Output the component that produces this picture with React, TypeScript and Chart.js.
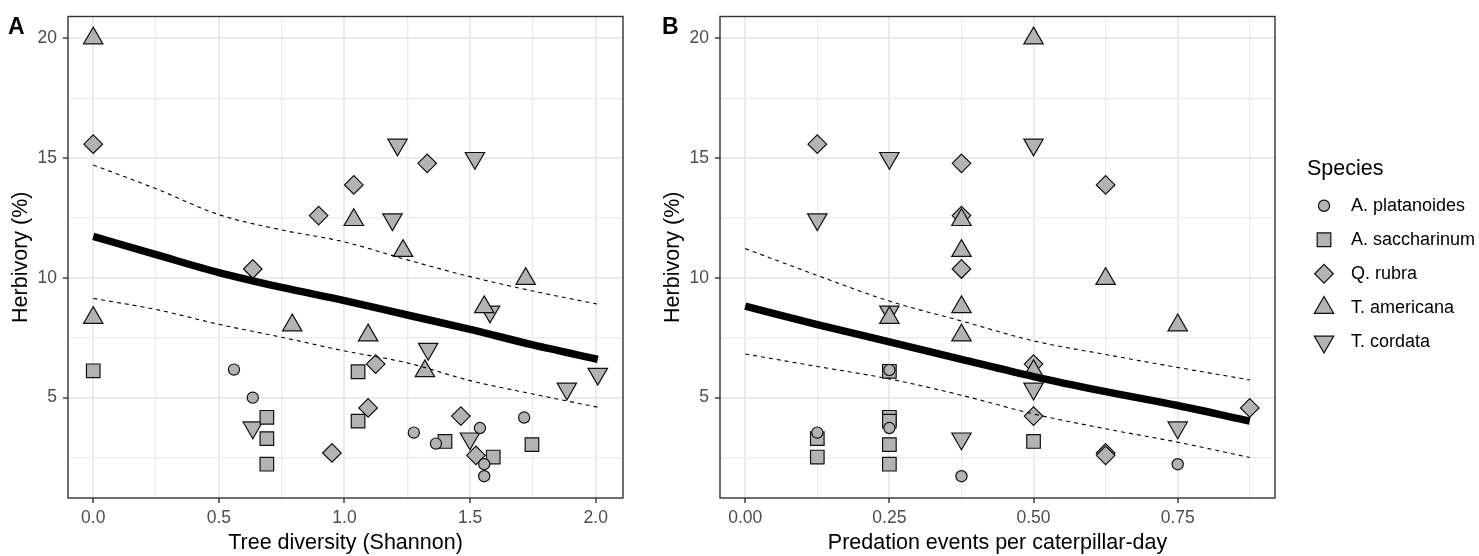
import React, { useEffect, useRef } from 'react';
import { Chart, registerables } from 'chart.js';
import { drawPoint } from 'chart.js/helpers';

Chart.register(...registerables);

const FONT = "'Liberation Sans', Arial, Helvetica, sans-serif";

// ---- Species (legend order) ----
const speciesNames = ['A. platanoides', 'A. saccharinum', 'Q. rubra', 'T. americana', 'T. cordata'];
const speciesShapes = ['circle', 'rect', 'rectRot', 'triangle', 'triangle'];
const speciesRotation = [0, 0, 0, 0, 180];
const speciesRadius = [5.6, 9.6, 9.3, 11.2, 11.2];

// ---- Panel A: tree diversity (Shannon) vs herbivory ----
const platDiv = [0.56, 0.635, 1.276, 1.364, 1.539, 1.556, 1.556, 1.715];
const platHerbA = [6.17, 5.0, 3.54, 3.08, 3.73, 2.22, 1.72, 4.17];
const sacchDiv = [0.0, 0.691, 0.691, 0.691, 1.054, 1.054, 1.4, 1.592, 1.746];
const sacchHerbA = [6.12, 4.18, 3.29, 2.22, 6.08, 4.02, 3.17, 2.52, 3.04];
const rubraDiv = [0.0, 0.635, 0.897, 1.037, 1.329, 1.124, 1.094, 0.95, 1.463, 1.523];
const rubraHerbA = [15.58, 10.37, 12.6, 13.88, 14.78, 6.4, 4.57, 2.69, 4.23, 2.59];
const americDiv = [0.0, 0.0, 0.792, 1.037, 1.233, 1.721, 1.094, 1.556, 1.32];
const americHerbA = [20.0, 8.33, 8.02, 12.42, 11.13, 9.96, 7.6, 8.78, 6.11];
const cordDiv = [0.635, 1.211, 1.519, 1.191, 1.333, 1.579, 1.885, 2.008, 1.499];
const cordHerbA = [3.75, 15.56, 15.0, 12.44, 7.03, 8.59, 5.37, 5.99, 3.29];

// ---- Panel B: predation events per caterpillar-day vs herbivory ----
const platPred = [0.25, 0.25, 0.125, 0.375, 0.75];
const platHerbB = [6.15, 3.73, 3.54, 1.72, 2.22];
const sacchPred = [0.25, 0.25, 0.25, 0.25, 0.25, 0.125, 0.125, 0.5];
const sacchHerbB = [6.1, 4.18, 4.02, 3.04, 2.22, 3.29, 2.52, 3.17];
const rubraPred = [0.125, 0.375, 0.375, 0.375, 0.625, 0.5, 0.5, 0.625, 0.625, 0.875];
const rubraHerbB = [15.58, 14.78, 12.6, 10.37, 13.88, 6.4, 4.23, 2.69, 2.59, 4.57];
const americPred = [0.5, 0.375, 0.375, 0.625, 0.25, 0.375, 0.375, 0.5, 0.75];
const americHerbB = [20.0, 12.42, 11.13, 9.96, 8.33, 8.78, 7.6, 6.11, 8.02];
const cordPred = [0.125, 0.25, 0.5, 0.25, 0.375, 0.5, 0.75];
const cordHerbB = [12.44, 15.0, 15.56, 8.59, 3.29, 5.37, 3.75];

// ---- Fitted curves and confidence bands ----
const fitDivX = [0, 0.25, 0.5, 0.75, 1.0, 1.25, 1.5, 1.75, 2.008];
const fitDivY = [11.73, 10.97, 10.22, 9.6, 9.05, 8.45, 7.85, 7.2, 6.6];
const fitDivUpper = [14.71, 13.72, 12.64, 12.0, 11.5, 10.75, 10.05, 9.45, 8.9];
const fitDivLower = [9.14, 8.68, 8.06, 7.52, 6.95, 6.45, 5.71, 5.15, 4.6];

const fitPredX = [0, 0.125, 0.25, 0.375, 0.5, 0.625, 0.75, 0.875];
const fitPredY = [8.82, 8.05, 7.33, 6.6, 5.88, 5.25, 4.67, 4.02];
const fitPredUpper = [11.22, 10.1, 9.03, 8.2, 7.37, 6.8, 6.26, 5.74];
const fitPredLower = [6.82, 6.3, 5.78, 5.1, 4.32, 3.7, 3.14, 2.5];

// ---- Axes ----
const yTicks = [2.5, 5, 7.5, 10, 12.5, 15, 17.5, 20];
const yMajor = [5, 10, 15, 20];
const yLabels = ['5', '10', '15', '20'];
const yMin = 0.81;
const yMax = 20.91;

const xTicksA = [0, 0.25, 0.5, 0.75, 1, 1.25, 1.5, 1.75, 2];
const xMajorA = [0, 0.5, 1, 1.5, 2];
const xLabelsA = ['0.0', '0.5', '1.0', '1.5', '2.0'];
const xMinA = -0.1004;
const xMaxA = 2.1084;

const xTicksB = [0, 0.125, 0.25, 0.375, 0.5, 0.625, 0.75, 0.875];
const xMajorB = [0, 0.25, 0.5, 0.75];
const xLabelsB = ['0.00', '0.25', '0.50', '0.75'];
const xMinB = -0.04375;
const xMaxB = 0.91875;

const FILL = '#B3B3B3';
const OUTLINE = '#111111';

function pts(xs: number[], ys: number[]) {
  return xs.map((x, i) => ({ x, y: ys[i] }));
}

function speciesDataset(idx: number, xs: number[], ys: number[]) {
  return {
    label: speciesNames[idx],
    data: pts(xs, ys),
    pointStyle: speciesShapes[idx],
    pointRotation: speciesRotation[idx],
    pointRadius: speciesRadius[idx],
    pointBackgroundColor: FILL,
    pointBorderColor: OUTLINE,
    pointBorderWidth: 1.2,
    showLine: false,
  };
}

function lineDataset(label: string, xs: number[], ys: number[], width: number, dash: number[]) {
  return {
    label,
    data: pts(xs, ys),
    showLine: true,
    borderColor: '#000000',
    borderWidth: width,
    borderDash: dash,
    borderJoinStyle: 'round',
    cubicInterpolationMode: 'monotone',
    pointRadius: 0,
  };
}

const borderPlugin = {
  id: 'panelBorder',
  afterDatasetsDraw(chart: any) {
    const { ctx, chartArea } = chart;
    ctx.save();
    ctx.strokeStyle = '#333333';
    ctx.lineWidth = 1.4;
    ctx.strokeRect(chartArea.left, chartArea.top, chartArea.right - chartArea.left, chartArea.bottom - chartArea.top);
    ctx.restore();
  },
};

function tagPlugin(text: string, x: number) {
  return {
    id: 'panelTag',
    afterDraw(chart: any) {
      const { ctx } = chart;
      ctx.save();
      ctx.fillStyle = '#000000';
      ctx.font = `bold 23px ${FONT}`;
      ctx.textAlign = 'left';
      ctx.textBaseline = 'alphabetic';
      ctx.fillText(text, x, 34);
      ctx.restore();
    },
  };
}

const legendPlugin = {
  id: 'speciesLegend',
  afterDraw(chart: any) {
    const { ctx, chartArea } = chart;
    const cy = (chartArea.top + chartArea.bottom) / 2;
    const x0 = chartArea.right;
    ctx.save();
    ctx.textAlign = 'left';
    ctx.textBaseline = 'middle';
    ctx.fillStyle = '#000000';
    ctx.font = `21.5px ${FONT}`;
    ctx.fillText('Species', x0 + 32, cy - 88.5);
    speciesNames.forEach((name, i) => {
      const y = cy - 51.5 + i * 34;
      ctx.fillStyle = FILL;
      ctx.strokeStyle = OUTLINE;
      ctx.lineWidth = 1.2;
      drawPoint(ctx, {
        pointStyle: speciesShapes[i],
        rotation: speciesRotation[i],
        radius: speciesRadius[i],
        borderWidth: 1.2,
      } as any, x0 + 49, y);
      ctx.fillStyle = '#000000';
      ctx.font = `18px ${FONT}`;
      ctx.fillText(name, x0 + 76, y);
    });
    ctx.restore();
  },
};

function gridOpts(major: number[]) {
  return {
    color: '#EBEBEB',
    lineWidth: (c: any) => (c.tick && major.includes(c.tick.value) ? 2 : 1.2),
    tickColor: (c: any) => (c.tick && major.includes(c.tick.value) ? '#333333' : 'rgba(0,0,0,0)'),
    tickLength: 5,
    tickWidth: 1.4,
    drawTicks: true,
    drawOnChartArea: true,
  };
}

function buildConfig(opts: any) {
  const tickFont = { family: FONT, size: 17.5 };
  const titleFont = { family: FONT, size: 21.5 };
  return {
    type: 'scatter',
    data: { datasets: opts.datasets },
    options: {
      responsive: false,
      animation: false,
      events: [],
      devicePixelRatio: 1,
      layout: { padding: { left: 0, top: 14, right: opts.padRight, bottom: 0 } },
      plugins: { legend: { display: false }, tooltip: { enabled: false } },
      scales: {
        x: {
          type: 'linear',
          position: 'bottom',
          min: opts.xMin,
          max: opts.xMax,
          afterBuildTicks: (s: any) => { s.ticks = opts.xTicks.map((v: number) => ({ value: v })); },
          afterFit: (s: any) => { s.height = 58; },
          ticks: {
            autoSkip: false,
            maxRotation: 0,
            color: '#4D4D4D',
            font: tickFont,
            padding: 5,
            callback: (v: number) => {
              const i = opts.xMajor.indexOf(v);
              return i >= 0 ? opts.xLabels[i] : '';
            },
          },
          grid: gridOpts(opts.xMajor),
          border: { display: false },
          title: { display: true, text: opts.xTitle, color: '#000000', font: titleFont, padding: { top: 0, bottom: 0.4 } },
        },
        y: {
          type: 'linear',
          position: 'left',
          min: yMin,
          max: yMax,
          afterBuildTicks: (s: any) => { s.ticks = yTicks.map((v) => ({ value: v })); },
          afterFit: (s: any) => { s.width = 68; },
          ticks: {
            autoSkip: false,
            color: '#4D4D4D',
            font: tickFont,
            padding: 6,
            callback: (v: number) => {
              const i = yMajor.indexOf(v);
              return i >= 0 ? yLabels[i] : '';
            },
          },
          grid: gridOpts(yMajor),
          border: { display: false },
          title: { display: true, text: 'Herbivory (%)', color: '#000000', font: titleFont, padding: { top: 8.5, bottom: 0 } },
        },
      },
    },
    plugins: opts.plugins,
  };
}

function configA() {
  return buildConfig({
    datasets: [
      lineDataset('fit', fitDivX, fitDivY, 7.5, []),
      lineDataset('upper', fitDivX, fitDivUpper, 1.1, [4, 4]),
      lineDataset('lower', fitDivX, fitDivLower, 1.1, [4, 4]),
      speciesDataset(0, platDiv, platHerbA),
      speciesDataset(1, sacchDiv, sacchHerbA),
      speciesDataset(3, americDiv, americHerbA),
      speciesDataset(4, cordDiv, cordHerbA),
      speciesDataset(2, rubraDiv, rubraHerbA),
    ],
    xMin: xMinA,
    xMax: xMaxA,
    xTicks: xTicksA,
    xMajor: xMajorA,
    xLabels: xLabelsA,
    xTitle: 'Tree diversity (Shannon)',
    padRight: 27,
    plugins: [borderPlugin, tagPlugin('A', 8)],
  });
}

function configB() {
  return buildConfig({
    datasets: [
      lineDataset('fit', fitPredX, fitPredY, 7.5, []),
      lineDataset('upper', fitPredX, fitPredUpper, 1.1, [4, 4]),
      lineDataset('lower', fitPredX, fitPredLower, 1.1, [4, 4]),
      speciesDataset(0, platPred, platHerbB),
      speciesDataset(1, sacchPred, sacchHerbB),
      speciesDataset(3, americPred, americHerbB),
      speciesDataset(4, cordPred, cordHerbB),
      speciesDataset(2, rubraPred, rubraHerbB),
    ],
    xMin: xMinB,
    xMax: xMaxB,
    xTicks: xTicksB,
    xMajor: xMajorB,
    xLabels: xLabelsB,
    xTitle: 'Predation events per caterpillar-day',
    padRight: 204,
    plugins: [borderPlugin, tagPlugin('B', 10), legendPlugin],
  });
}

function Panel({ make, left, width }: { make: () => any; left: number; width: number }) {
  const ref = useRef<HTMLCanvasElement>(null);
  useEffect(() => {
    const chart = new Chart(ref.current as HTMLCanvasElement, make());
    return () => chart.destroy();
  }, []);
  return (
    <canvas
      ref={ref}
      width={width}
      height={556}
      style={{ position: 'absolute', left, top: 0, width, height: 556, display: 'block' }}
    />
  );
}

export default function App() {
  return (
    <div style={{ position: 'absolute', left: 0, top: 0, width: 1479, height: 556, background: '#ffffff', overflow: 'hidden' }}>
      <Panel make={configA} left={0} width={650} />
      <Panel make={configB} left={652} width={827} />
    </div>
  );
}
